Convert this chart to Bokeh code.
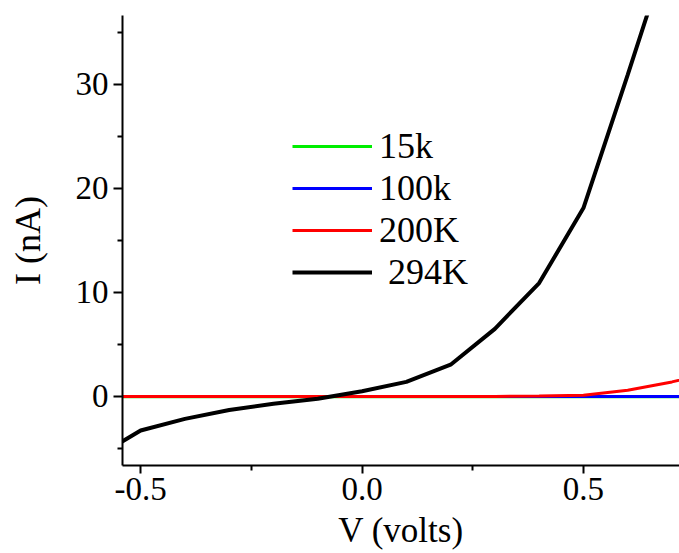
from bokeh.plotting import figure
from bokeh.models import Range1d, FixedTicker, Legend, LegendItem
from bokeh.embed import file_html
from bokeh.resources import INLINE

# Data
v_294 = [-0.6, -0.5, -0.4, -0.3, -0.2, -0.1, 0.0, 0.1, 0.2, 0.3, 0.4, 0.5, 0.6, 0.7]
i_294 = [-5.8, -3.27, -2.15, -1.3, -0.7, -0.22, 0.5, 1.4, 3.05, 6.5, 10.9, 18.1, 30.9, 44.0]

v_200 = [-0.6, -0.5, -0.4, -0.3, -0.2, -0.1, 0.0, 0.1, 0.2, 0.3, 0.4, 0.5, 0.6, 0.7, 0.75]
i_200 = [0.0, 0.0, 0.0, 0.0, 0.0, 0.0, 0.0, 0.0, 0.0, 0.01, 0.04, 0.12, 0.6, 1.4, 1.9]

v_100 = [-0.6, -0.5, -0.4, -0.3, -0.2, -0.1, 0.0, 0.1, 0.2, 0.3, 0.4, 0.5, 0.6, 0.7, 0.75]
i_100 = [0.0, 0.0, 0.0, 0.0, 0.0, 0.0, 0.0, 0.0, 0.0, 0.0, 0.0, 0.0, 0.0, 0.0, 0.0]

v_15 = [-0.6, -0.5, -0.4, -0.3, -0.2, -0.1, 0.0, 0.1, 0.2, 0.3, 0.4, 0.5, 0.6, 0.7, 0.75]
i_15 = [-0.02, -0.02, -0.02, -0.02, -0.02, -0.02, -0.02, -0.02, -0.02, -0.02, -0.02, -0.02, -0.02, -0.02, -0.02]

x_ticks = [-0.5, 0.0, 0.5]
x_tick_labels = ["-0.5", "0.0", "0.5"]
y_ticks = [0, 10, 20, 30]
y_tick_labels = ["0", "10", "20", "30"]
series_labels = ["15k", "100k", "200K", " 294K"]

FONT = "Liberation Serif"

p = figure(width=679, height=553, output_backend="svg", toolbar_location=None,
           x_range=Range1d(-0.541, 0.717), y_range=Range1d(-6.63, 36.6),
           min_border_left=122, min_border_right=0, min_border_top=15, min_border_bottom=88)
p.outline_line_color = None
p.xgrid.visible = False
p.ygrid.visible = False

r15 = p.line(v_15, i_15, line_color="#00ee00", line_width=3)
r100 = p.line(v_100, i_100, line_color="#0000ff", line_width=3)
r200 = p.line(v_200, i_200, line_color="#ff0000", line_width=3)
r294 = p.line(v_294, i_294, line_color="#000000", line_width=4)

for ax in (p.xaxis[0], p.yaxis[0]):
    ax.axis_line_width = 2
    ax.major_tick_line_width = 2
    ax.minor_tick_line_width = 2
    ax.major_tick_in = 0
    ax.minor_tick_in = 0
    ax.major_label_text_font = FONT
    ax.major_label_text_font_size = "33px"
    ax.axis_label_text_font = FONT
    ax.axis_label_text_font_style = "normal"
    ax.major_label_text_color = "black"
    ax.axis_label_text_color = "black"

xa = p.xaxis[0]
xa.ticker = FixedTicker(ticks=x_ticks, minor_ticks=[-0.25, 0.25])
xa.major_label_overrides = dict(zip(x_ticks, x_tick_labels))
xa.major_tick_out = 8
xa.minor_tick_out = 5
xa.major_label_standoff = 4
xa.axis_label = "V (volts)"
xa.axis_label_text_font_size = "35px"
xa.axis_label_standoff = 8

ya = p.yaxis[0]
ya.ticker = FixedTicker(ticks=y_ticks, minor_ticks=[-5, 5, 15, 25, 35])
ya.major_label_overrides = dict(zip(y_ticks, y_tick_labels))
ya.major_tick_out = 9
ya.minor_tick_out = 5
ya.major_label_standoff = 5
ya.axis_label = "I (nA)"
ya.axis_label_text_font_size = "36px"
ya.axis_label_standoff = 25

legend = Legend(items=[LegendItem(label=series_labels[0], renderers=[r15]),
                       LegendItem(label=series_labels[1], renderers=[r100]),
                       LegendItem(label=series_labels[2], renderers=[r200]),
                       LegendItem(label=series_labels[3], renderers=[r294])],
                location=(170, 172),
                glyph_width=80, glyph_height=20, label_height=20,
                spacing=0, padding=0, margin=0, label_standoff=7,
                border_line_color=None, background_fill_alpha=0,
                label_text_color="black",
                label_text_font=FONT, label_text_font_size="36px")
p.add_layout(legend, "center")

open("out.html", "w").write(file_html(p, INLINE))
